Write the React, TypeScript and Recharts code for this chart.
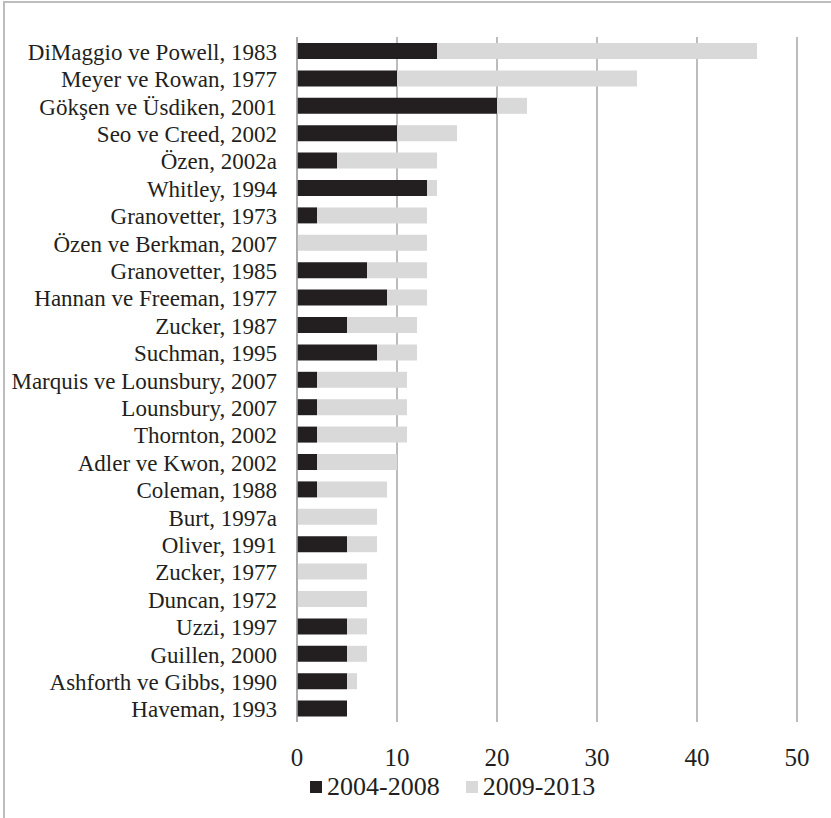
import React from "react";
import { BarChart, Bar, XAxis, YAxis, CartesianGrid, Legend } from "recharts";

const categories = [
  "DiMaggio ve Powell, 1983",
  "Meyer ve Rowan, 1977",
  "Gökşen ve Üsdiken, 2001",
  "Seo ve Creed, 2002",
  "Özen, 2002a",
  "Whitley, 1994",
  "Granovetter, 1973",
  "Özen ve Berkman, 2007",
  "Granovetter, 1985",
  "Hannan ve Freeman, 1977",
  "Zucker, 1987",
  "Suchman, 1995",
  "Marquis ve Lounsbury, 2007",
  "Lounsbury, 2007",
  "Thornton, 2002",
  "Adler ve Kwon, 2002",
  "Coleman, 1988",
  "Burt, 1997a",
  "Oliver, 1991",
  "Zucker, 1977",
  "Duncan, 1972",
  "Uzzi, 1997",
  "Guillen, 2000",
  "Ashforth ve Gibbs, 1990",
  "Haveman, 1993",
];

const series2004_2008 = [14, 10, 20, 10, 4, 13, 2, 0, 7, 9, 5, 8, 2, 2, 2, 2, 2, 0, 5, 0, 0, 5, 5, 5, 5];
const series2009_2013 = [32, 24, 3, 6, 10, 1, 11, 13, 6, 4, 7, 4, 9, 9, 9, 8, 7, 8, 3, 7, 7, 2, 2, 1, 0];

const xTicks = [0, 10, 20, 30, 40, 50];

const seriesNames = ["2004-2008", "2009-2013"];
const seriesColors = ["#231f20", "#d9d9da"];

const data = categories.map((name, i) => ({
  name,
  a: series2004_2008[i],
  b: series2009_2013[i],
}));

const FONT = "Liberation Serif, Tinos, Times New Roman, Times, DejaVu Serif, serif";
const GRID = "#a6a6a6";

const LegendContent = () => (
  <div
    style={{
      display: "flex",
      alignItems: "center",
      paddingLeft: 310,
      fontFamily: FONT,
      fontSize: 26,
      color: "#231f20",
      height: 30,
      lineHeight: "30px",
    }}
  >
    {seriesNames.map((n, i) => (
      <div key={n} style={{ display: "flex", alignItems: "center", marginRight: 26 }}>
        <div style={{ width: 12, height: 12, background: seriesColors[i], marginRight: 5 }} />
        <span>{n}</span>
      </div>
    ))}
  </div>
);

export default function App() {
  return (
    <div
      style={{
        position: "absolute",
        left: 0,
        top: 0,
        width: 831,
        height: 818,
        background: "#fff",
        fontFamily: FONT,
      }}
    >
      <div
        style={{
          position: "absolute",
          left: 3,
          top: 1,
          width: 840,
          height: 830,
          borderLeft: "2px solid #bdbdbd",
          borderTop: "2px solid #bdbdbd",
          boxSizing: "border-box",
        }}
      />
      <BarChart
        width={831}
        height={818}
        data={data}
        layout="vertical"
        margin={{ top: 37, right: 34, left: 0, bottom: 16 }}
        barSize={16}
        style={{ fontFamily: FONT }}
      >
        <CartesianGrid horizontal={false} vertical={true} stroke={GRID} strokeWidth={1.5} />
        <XAxis
          type="number"
          domain={[0, 50]}
          ticks={xTicks}
          axisLine={false}
          tickLine={false}
          tickSize={0}
          tickMargin={26}
          height={50}
          tick={{ fontFamily: FONT, fontSize: 25, fill: "#231f20" }}
          interval={0}
        />
        <YAxis
          type="category"
          dataKey="name"
          width={297}
          axisLine={{ stroke: GRID, strokeWidth: 1.5 }}
          tickLine={false}
          tickSize={0}
          tickMargin={20}
          interval={0}
          tick={{ fontFamily: FONT, fontSize: 23, fill: "#231f20", dy: 1 }}
        />
        <Legend verticalAlign="bottom" height={30} content={<LegendContent />} />
        <Bar dataKey="a" name={seriesNames[0]} stackId="s" fill={seriesColors[0]} isAnimationActive={false} />
        <Bar dataKey="b" name={seriesNames[1]} stackId="s" fill={seriesColors[1]} isAnimationActive={false} />
      </BarChart>
    </div>
  );
}
